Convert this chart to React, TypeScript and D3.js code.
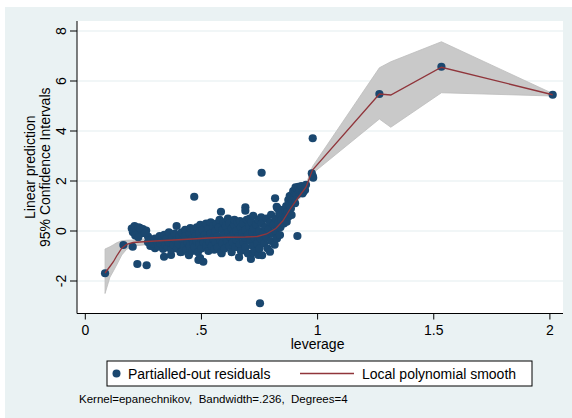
import * as d3 from 'd3';

// ── data ─────────────────────────────────────────────────────────────────────
const yTicks = [-2, 0, 2, 4, 6, 8];
const xTicks = [0, 0.5, 1, 1.5, 2];
const xTickLabels = ['0', '.5', '1', '1.5', '2'];

// local polynomial smooth and its 95% band
const smoothLev = [0.085, 0.106, 0.121, 0.135, 0.157, 0.178, 0.206, 0.25, 0.30, 0.38, 0.46, 0.53, 0.61, 0.69, 0.74, 0.78, 0.82, 0.85, 0.88, 0.91, 0.95, 0.978, 1.266, 1.315, 1.533, 2.012];
const smoothFit = [-1.68, -1.42, -1.23, -1.0, -0.69, -0.53, -0.46, -0.43, -0.40, -0.36, -0.32, -0.28, -0.25, -0.24, -0.22, -0.12, 0.10, 0.40, 0.85, 1.25, 1.75, 2.44, 5.48, 5.44, 6.55, 5.45];
const ciLow = [-2.5, -1.85, -1.6, -1.36, -0.96, -0.73, -0.6, -0.56, -0.5, -0.43, -0.38, -0.34, -0.31, -0.3, -0.29, -0.2, 0.0, 0.3, 0.74, 1.14, 1.63, 2.3, 4.48, 4.15, 5.53, 5.4];
const ciHigh = [-0.72, -0.63, -0.55, -0.47, -0.39, -0.37, -0.36, -0.32, -0.3, -0.29, -0.26, -0.22, -0.19, -0.18, -0.15, -0.04, 0.2, 0.5, 0.96, 1.36, 1.87, 2.58, 6.53, 6.77, 7.57, 5.5];

// partialled-out residuals: [leverage, residual]
const residuals: [number, number][] = [
  [0.085, -1.69], [0.164, -0.56], [0.204, -0.63], [0.224, -1.32], [0.264, -1.37],
  [0.200, 0.10], [0.205, -0.05], [0.212, 0.20], [0.222, 0.02], [0.230, 0.15], [0.238, -0.10],
  [0.248, 0.08], [0.258, -0.08], [0.262, 0.02], [0.270, -0.22], [0.215, -0.18], [0.228, -0.25],
  [0.236, 0.12], [0.257, -0.09], [0.30, -0.69],
  [0.27, -0.45], [0.28, -0.6], [0.285, -0.35], [0.29, -0.5], [0.30, -0.3], [0.31, -0.45],
  [0.315, -0.62], [0.32, -0.2], [0.325, -0.5], [0.33, -0.35], [0.335, -0.72], [0.34, -0.15],
  [0.339, -1.03], [0.345, -0.55], [0.35, -0.3], [0.355, -0.65], [0.36, -0.05], [0.36, -0.45],
  [0.369, -0.96], [0.37, -0.75], [0.375, -0.25], [0.38, -0.55], [0.385, -0.1], [0.39, -0.38],
  [0.393, 0.20], [0.395, -0.7], [0.40, -0.5], [0.405, -0.2], [0.41, -0.85], [0.415, -0.05],
  [0.415, -0.83], [0.42, -0.35], [0.425, -0.6], [0.43, 0.05], [0.43, -0.2], [0.435, -0.75],
  [0.44, -0.45], [0.446, -0.97], [0.45, -0.1], [0.45, -0.6], [0.452, 0.12], [0.46, -0.3],
  [0.46, -0.8], [0.465, -0.5], [0.469, 1.37], [0.47, 0.0], [0.47, -0.65], [0.475, -0.2],
  [0.48, 0.15], [0.48, -0.4], [0.485, -0.85], [0.487, -1.16], [0.49, -0.1], [0.49, -0.55],
  [0.494, -1.08], [0.495, 0.25], [0.50, -0.3], [0.50, -0.7], [0.505, 0.05], [0.51, -0.45],
  [0.508, -1.23], [0.515, -0.15], [0.52, 0.3], [0.52, -0.6], [0.525, -0.3], [0.53, 0.1],
  [0.53, -0.8], [0.535, -0.45], [0.54, 0.35], [0.54, -0.1], [0.545, -0.6], [0.55, 0.2],
  [0.55, -0.3], [0.555, -0.75], [0.56, 0.0], [0.56, -0.45], [0.565, 0.3], [0.57, -0.2],
  [0.57, -0.65], [0.575, 0.15], [0.578, 0.45], [0.58, -0.35], [0.584, 0.77], [0.585, -0.85],
  [0.587, -0.89], [0.59, 0.05], [0.59, -0.5], [0.595, 0.35], [0.60, -0.15], [0.60, -0.7],
  [0.605, 0.2], [0.61, -0.4], [0.614, 0.5], [0.615, -0.05], [0.62, 0.3], [0.62, -0.6],
  [0.625, -0.25], [0.63, 0.1], [0.63, -0.85], [0.635, -0.45], [0.64, 0.25], [0.642, 0.45],
  [0.64, -0.1], [0.645, -0.65], [0.65, 0.0], [0.65, -0.35], [0.655, 0.35], [0.66, -0.2],
  [0.662, -1.05], [0.665, -0.55], [0.666, 0.4], [0.67, 0.15], [0.67, -0.8], [0.675, -0.1],
  [0.68, 0.3], [0.68, -0.45], [0.685, -0.25], [0.689, 0.95], [0.689, 0.81], [0.69, 0.05],
  [0.69, -0.65], [0.695, 0.45], [0.70, -0.15], [0.70, -0.9], [0.705, 0.2], [0.708, 0.5],
  [0.71, -0.4], [0.713, -1.12], [0.715, 0.35], [0.72, -0.05], [0.72, -0.6], [0.723, 0.61],
  [0.723, -0.87], [0.725, 0.1], [0.73, -0.3], [0.73, -0.8], [0.735, 0.25], [0.74, -0.15],
  [0.74, -0.5], [0.745, 0.45], [0.745, -0.96], [0.75, 0.0], [0.75, -0.7], [0.752, -2.89],
  [0.755, -0.3], [0.757, 0.55], [0.759, 2.33], [0.76, 0.3], [0.761, -0.97], [0.765, -0.1],
  [0.77, -0.5], [0.775, 0.15], [0.78, -0.25], [0.78, 0.5], [0.785, -0.7], [0.79, 0.05],
  [0.795, -0.83], [0.795, 0.35], [0.80, -0.4], [0.80, 0.65], [0.805, -0.1], [0.81, 0.25],
  [0.815, -0.55], [0.817, 1.31], [0.82, 0.5], [0.82, 0.0], [0.824, 0.97], [0.825, -0.3],
  [0.827, 0.91], [0.83, 0.3], [0.835, 0.7], [0.838, -0.16], [0.84, 0.15], [0.845, 0.45],
  [0.85, 0.85], [0.852, 0.71], [0.855, 0.3], [0.86, 0.84], [0.86, 0.55], [0.865, 1.0],
  [0.867, 0.37], [0.87, 0.75], [0.874, 1.24], [0.874, 0.57], [0.878, 1.05], [0.88, 1.4],
  [0.885, 0.9], [0.888, 1.44], [0.888, 0.64], [0.89, 1.2], [0.895, 1.6], [0.90, 1.35],
  [0.903, 1.51], [0.903, 1.11], [0.905, 1.75], [0.91, 1.45], [0.913, -0.2], [0.915, 1.65],
  [0.917, 1.77], [0.92, 1.55], [0.924, 1.64], [0.93, 1.8], [0.935, 1.5], [0.939, 1.57],
  [0.946, 1.64], [0.95, 1.85], [0.975, 2.31], [0.981, 2.13], [0.979, 2.2], [0.979, 3.71],
  [1.266, 5.48], [1.533, 6.57], [2.012, 5.45],
];

// ── styling ──────────────────────────────────────────────────────────────────
const FONT = '"Liberation Sans", Arial, Helvetica, sans-serif';
const NAVY = '#1a476f';
const MAROON = '#90353b';
const BG = '#eaf2f3';

const plot = { left: 77, right: 563, top: 21, bottom: 313.5 };
const x = d3.scaleLinear().domain([0, 2]).range([85.3, 549.9]);
const y = d3.scaleLinear().domain([-2, 8]).range([281, 31]);

export default function App() {
  const idx = smoothLev.map((_, i) => i);
  const band = d3.area<number>()
    .x(i => x(smoothLev[i]))
    .y0(i => y(ciLow[i]))
    .y1(i => y(ciHigh[i]))(idx);
  const fit = d3.line<number>()
    .x(i => x(smoothLev[i]))
    .y(i => y(smoothFit[i]))(idx);
  const midY = (plot.top + plot.bottom) / 2;

  return (
    <svg width={572} height={418} style={{ position: 'absolute', left: 0, top: 0 }} fontFamily={FONT}>
      <rect width={572} height={418} fill="#fff" />
      <rect x={5} y={7} width={567} height={411} fill={BG} />
      <rect x={plot.left} y={plot.top} width={plot.right - plot.left} height={plot.bottom - plot.top} fill="#fff" />

      {/* gridlines */}
      {yTicks.map(t => (
        <line key={t} x1={plot.left} x2={plot.right} y1={y(t)} y2={y(t)} stroke="#e4eef0" strokeWidth={1.2} />
      ))}

      {/* CI band, points, smooth */}
      <path d={band ?? ''} fill="#c9c9c9" stroke="#bcbcbc" strokeWidth={0.8} />
      {residuals.map(([lv, r], i) => (
        <circle key={i} cx={x(lv)} cy={y(r)} r={4.1} fill={NAVY} />
      ))}
      <path d={fit ?? ''} fill="none" stroke={MAROON} strokeWidth={1.3} />

      {/* axes */}
      <line x1={plot.left} x2={plot.left} y1={plot.top} y2={plot.bottom} stroke="#000" strokeWidth={1} />
      <line x1={plot.left} x2={plot.right} y1={plot.bottom} y2={plot.bottom} stroke="#000" strokeWidth={1} />
      {yTicks.map(t => (
        <g key={t}>
          <line x1={70} x2={plot.left} y1={y(t)} y2={y(t)} stroke="#000" />
          <text transform={`translate(65.5,${y(t)}) rotate(-90)`} textAnchor="middle" fontSize={14}>{t}</text>
        </g>
      ))}
      {xTicks.map((t, i) => (
        <g key={t}>
          <line x1={x(t)} x2={x(t)} y1={plot.bottom} y2={plot.bottom + 6} stroke="#000" />
          <text x={x(t)} y={334.5} textAnchor="middle" fontSize={14}>{xTickLabels[i]}</text>
        </g>
      ))}

      {/* axis titles */}
      <text x={x(1)} y={349} textAnchor="middle" fontSize={14}>leverage</text>
      <text transform={`translate(35,${midY}) rotate(-90)`} textAnchor="middle" fontSize={14}>Linear prediction</text>
      <text transform={`translate(49.5,${midY}) rotate(-90)`} textAnchor="middle" fontSize={14}>95% Confidence Intervals</text>

      {/* legend */}
      <rect x={107} y={361} width={425} height={25} fill="#fff" stroke="#000" strokeWidth={1} />
      <circle cx={116.5} cy={373.5} r={4} fill={NAVY} />
      <text x={128} y={378.5} fontSize={14}>Partialled-out residuals</text>
      <line x1={300} x2={354} y1={373.5} y2={373.5} stroke={MAROON} strokeWidth={1.3} />
      <text x={362} y={378.5} fontSize={14}>Local polynomial smooth</text>

      {/* note */}
      <text x={79} y={403} fontSize={11.5} style={{ whiteSpace: 'pre' }}>Kernel=epanechnikov,  Bandwidth=.236,  Degrees=4</text>
    </svg>
  );
}
